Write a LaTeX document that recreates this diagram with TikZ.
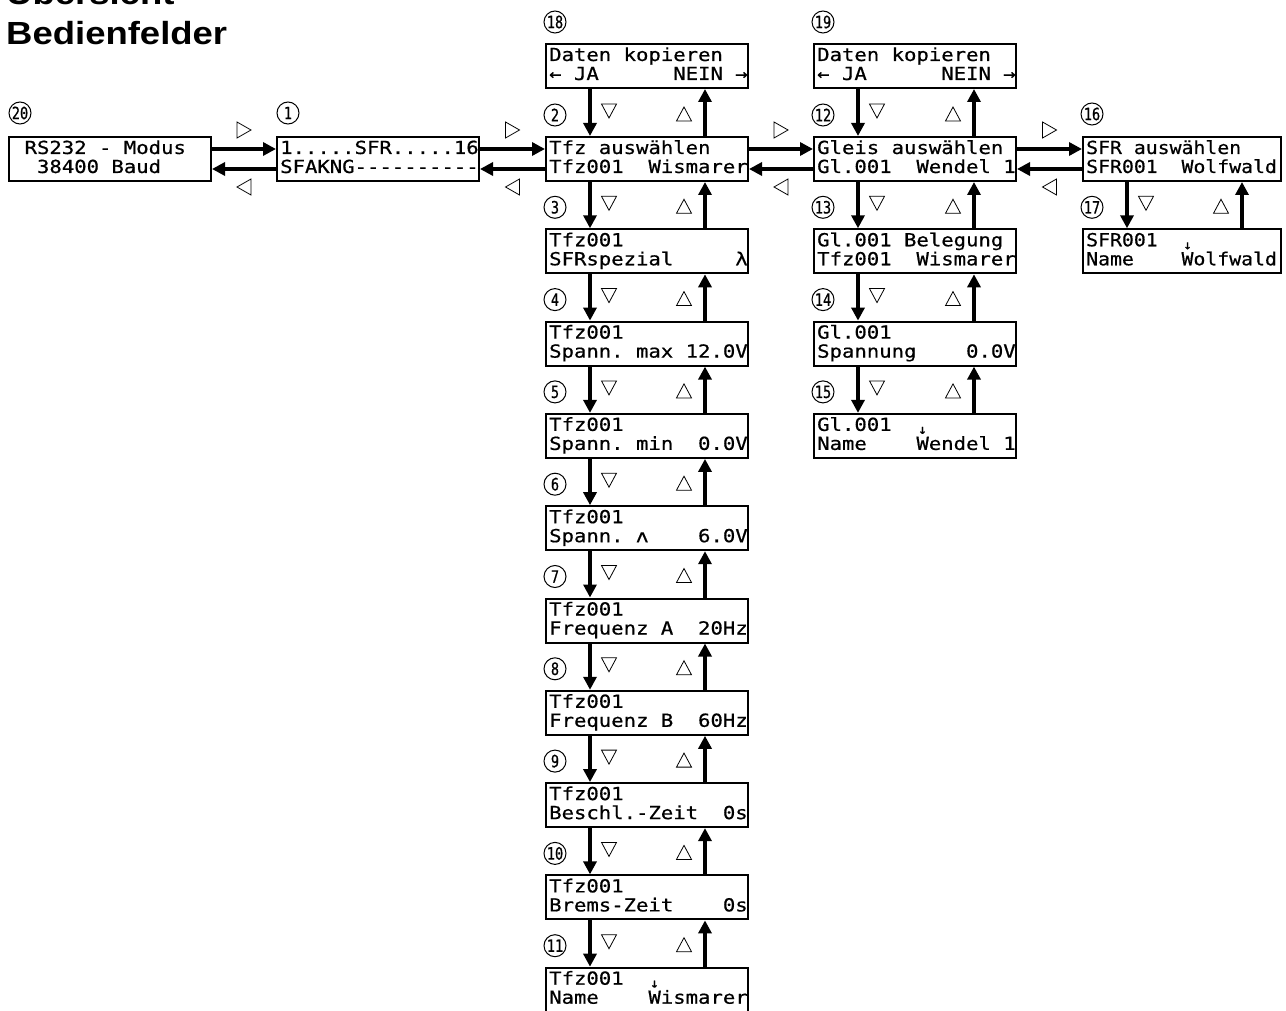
\documentclass[tikz,border=0pt]{standalone}
\usepackage{fontspec}
\usetikzlibrary{arrows.meta,calc}
\newfontfamily\lcdfont{DejaVu Sans Mono}[FakeStretch=1.145,FakeBold=0.6]
\newfontfamily\lcdfontn{DejaVu Sans Mono}[FakeStretch=1.10,FakeBold=0.6]
\newfontfamily\numfont{DejaVu Sans Mono}[FakeStretch=0.8,FakeBold=0.6]
\newfontfamily\titlefont{Liberation Sans}[FakeStretch=1.14]
\newcommand\sk{\phantom{0}}
\newcommand\lcdsel{\lcdfont}
\newcommand\smarr{\makebox[12pt]{\raisebox{-3pt}{\fontsize{13}{13}\selectfont ↓}}}
\newcommand\lcd[6][]{%
  \node[lcdbox,#1] (#2) at (#3,#4) {};
  \node[lcdtxt] (#2-a) at ([shift={(4pt,-18pt)}]#2.north west) {#5};
  \node[lcdtxt] (#2-b) at ([shift={(4pt,-37pt)}]#2.north west) {#6};}
\newcommand\vpair[4]{% upper, lower, up-arrow offset from right, number
  \draw[arr] ([xshift=45pt]#1.south west) -- ([xshift=45pt]#2.north west);
  \draw[arr] ([xshift=-#3pt]#2.north east) -- ([xshift=-#3pt]#1.south east);
  \node[num] (n#4) at ([shift={(10pt,21pt)}]#2.north west) {#4};
  \pic at ([shift={(64pt,25pt)}]#2.north west) {tdn};
  \pic at ([shift={(-#3pt-21pt,22pt)}]#2.north east) {tup};}
\newcommand\hpair[2]{%
  \draw[arr] ([yshift=10pt]#1.east) -- ([yshift=10pt]#2.west);
  \draw[arr] ([yshift=-10pt]#2.west) -- ([yshift=-10pt]#1.east);
  \pic at ($ (#1.east)!0.5!(#2.west) + (0,-29) $) {trt};
  \pic at ($ (#1.east)!0.5!(#2.west) + (0,28) $) {tlt};}
\begin{document}
\begin{tikzpicture}[x=1pt,y=-1pt,
  lcdbox/.style={draw, line width=2pt, minimum width=202pt, minimum height=44pt,
    inner sep=0pt, anchor=north west},
  lcdtxt/.style={inner sep=0pt, anchor=base west, font=\lcdsel\fontsize{18}{18}\selectfont},
  num/.style={draw, circle, line width=1pt, minimum size=22pt, inner sep=0pt,
    font=\numfont\fontsize{17}{17}\selectfont},
  arr/.style={line width=4pt, -{Triangle[length=13pt,width=13pt]}},
  mk/.style={line width=0.8pt},
  pics/tdn/.style={code={\draw[mk] (-7.5,-7) -- (7.5,-7) -- (0,7) -- cycle;}},
  pics/tup/.style={code={\draw[mk] (-7.5,7) -- (7.5,7) -- (0,-7) -- cycle;}},
  pics/trt/.style={code={\draw[mk] (-7,-8) -- (-7,8) -- (7,0) -- cycle;}},
  pics/tlt/.style={code={\draw[mk] (7,-8) -- (7,8) -- (-7,0) -- cycle;}},
]
\clip (0,0) rectangle (1286,1011);
\path[fill=white] (0,0) rectangle (1286,1011);

% title
\node[inner sep=0pt, anchor=base west, font=\titlefont\bfseries\fontsize{32}{32}\selectfont] (title1) at (6,5) {Übersicht};
\node[inner sep=0pt, anchor=base west, font=\titlefont\bfseries\fontsize{32}{32}\selectfont] (title2) at (6,45) {Bedienfelder};

% boxes
\lcd{b20}{8}{136}{\sk RS232\sk-\sk Modus}{\sk\sk 38400\sk Baud}
\lcd{b1}{276}{136}{1.....SFR.....16}{SFAKNG-{}-{}-{}-{}-{}-{}-{}-{}-{}-}
\lcd{b18}{545}{43}{Daten\sk kopieren}{←\sk JA\sk\sk\sk\sk\sk\sk NEIN\sk →}
\lcd{b2}{545}{136}{Tfz\sk auswählen}{Tfz001\sk\sk Wismarer}
\lcd{b3}{545}{228.3}{Tfz001}{SFRspezial\sk\sk\sk\sk\sk λ}
\lcd{b4}{545}{320.6}{Tfz001}{Spann.\sk max\sk 12.0V}
\lcd{b5}{545}{412.9}{Tfz001}{Spann.\sk min\sk\sk 0.0V}
\lcd{b6}{545}{505.2}{Tfz001}{Spann.\sk ʌ\sk\sk\sk\sk 6.0V}
\lcd{b7}{545}{597.5}{Tfz001}{Frequenz\sk A\sk\sk 20Hz}
\lcd{b8}{545}{689.8}{Tfz001}{Frequenz\sk B\sk\sk 60Hz}
\lcd{b9}{545}{782.1}{Tfz001}{Beschl.-Zeit\sk\sk 0s}
\lcd{b10}{545}{874.4}{Tfz001}{Brems-Zeit\sk\sk\sk\sk 0s}
\lcd{b11}{545}{966.7}{Tfz001\sk\sk\smarr}{Name\sk\sk\sk\sk Wismarer}
\lcd{b19}{813}{43}{Daten\sk kopieren}{←\sk JA\sk\sk\sk\sk\sk\sk NEIN\sk →}
\lcd{b12}{813}{136}{Gleis\sk auswählen}{Gl.001\sk\sk Wendel\sk 1}
\lcd{b13}{813}{228.3}{Gl.001\sk Belegung}{Tfz001\sk\sk Wismarer}
\lcd{b14}{813}{320.6}{Gl.001}{Spannung\sk\sk\sk\sk 0.0V}
\lcd{b15}{813}{412.9}{Gl.001\sk\sk\smarr}{Name\sk\sk\sk\sk Wendel\sk 1}
\renewcommand\lcdsel{\lcdfontn}
\lcd[minimum width=198pt]{b16}{1082}{136}{SFR\sk auswählen}{SFR001\sk\sk Wolfwald}
\lcd[minimum width=198pt]{b17}{1082}{228.3}{SFR001\sk\sk\smarr}{Name\sk\sk\sk\sk Wolfwald}

% top-level numbers
\node[num] (n20) at (20,113) {20};
\node[num] (n1) at (288,113) {1};
\node[num] (n18) at (555,22) {18};
\node[num] (n19) at (823,22) {19};
\node[num] (n16) at (1092,114) {16};

% horizontal connections
\hpair{b20}{b1}
\hpair{b1}{b2}
\hpair{b2}{b12}
\hpair{b12}{b16}

% vertical connections
\vpair{b18}{b2}{44}{2}
\vpair{b2}{b3}{44}{3}
\vpair{b3}{b4}{44}{4}
\vpair{b4}{b5}{44}{5}
\vpair{b5}{b6}{44}{6}
\vpair{b6}{b7}{44}{7}
\vpair{b7}{b8}{44}{8}
\vpair{b8}{b9}{44}{9}
\vpair{b9}{b10}{44}{10}
\vpair{b10}{b11}{44}{11}
\vpair{b19}{b12}{43}{12}
\vpair{b12}{b13}{43}{13}
\vpair{b13}{b14}{43}{14}
\vpair{b14}{b15}{43}{15}
\vpair{b16}{b17}{40}{17}
\end{tikzpicture}
\end{document}
